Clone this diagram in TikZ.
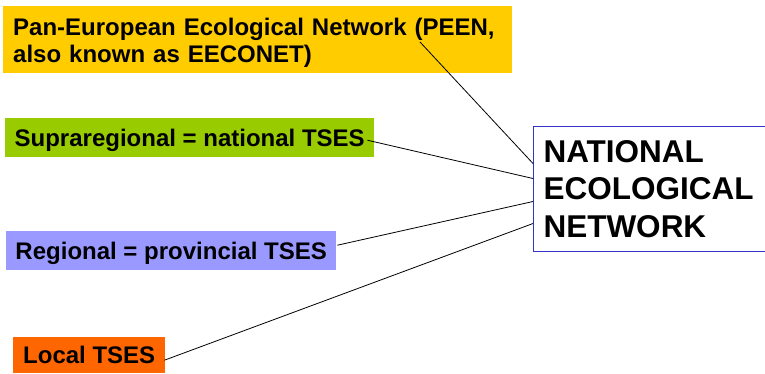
\documentclass[tikz,border=0pt]{standalone}
\usepackage{fontspec}
\setmainfont{Liberation Sans}
\usepackage{xcolor}
\definecolor{lineDark}{HTML}{000000}
\definecolor{peenColor}{HTML}{FFCC00}
\definecolor{supraColor}{HTML}{99CC00}
\definecolor{regionColor}{HTML}{9999FF}
\definecolor{localColor}{HTML}{FF6600}
\definecolor{nationEdge}{HTML}{3333CC}
\usepackage{tikz}
\usetikzlibrary{positioning}
\tikzset{
  tierBox/.style={
    rectangle,
    draw=none,
    inner sep=0pt,
    font=\fontsize{24}{27}\selectfont\bfseries,
    anchor=north west
 },
  peenBox/.style={
    tierBox,
    text depth=26pt,
    fill=peenColor,
    text width=489pt,
    minimum width=509pt,
    minimum height=67pt,
    align=left
 },
  supraBox/.style={
    tierBox,
    text depth=0pt,
    fill=supraColor,
    minimum width=369pt,
    minimum height=39pt
 },
  regionBox/.style={
    tierBox,
    text depth=0pt,
    fill=regionColor,
    minimum width=330pt,
    minimum height=39pt
 },
  localBox/.style={
    tierBox,
    text depth=0pt,
    fill=localColor,
    minimum width=152pt,
    minimum height=36pt
 },
  nationBox/.style={
    rectangle,
    draw=nationEdge,
    line width=1pt,
    fill=white,
    inner sep=0pt,
    text width=220pt,
    minimum width=240pt,
    minimum height=125pt,
    align=left,
    anchor=north west,
    font=\fontsize{31.5}{37.5}\selectfont\bfseries
 },
  linkLine/.style={
    line width=0.8pt,
    color=lineDark
 }
}

\begin{document}
\begin{tikzpicture}[x=1pt,y=-1pt]
            \useasboundingbox (0,0) rectangle (765,373);
            \clip (0,0) rectangle (765,373);

            \node[peenBox] (peen) at (3,6) {Pan-European Ecological Network (PEEN,\\also known as EECONET)};
            \node[supraBox] (supra) at (5,118) {Supraregional = national TSES};
            \node[regionBox] (regional) at (6,231) {Regional = provincial TSES};
            \node[localBox] (local) at (13,337) {Local TSES};
            \node[nationBox] (national) at (533,126) {NATIONAL\\ECOLOGICAL\\NETWORK};

            \draw[linkLine] ([shift={(417,36)}]peen.north west) -- ([yshift=25.5pt]national.west);
            \draw[linkLine] ([shift={(-7,2.5)}]supra.east) -- ([yshift=10.5pt]national.west);
            \draw[linkLine] ([shift={(1,-5.5)}]regional.east) -- ([yshift=-12.5pt]national.west);
            \draw[linkLine] ([shift={(-1,5)}]local.east) -- ([yshift=-34.5pt]national.west);
        \end{tikzpicture}
\end{document}
